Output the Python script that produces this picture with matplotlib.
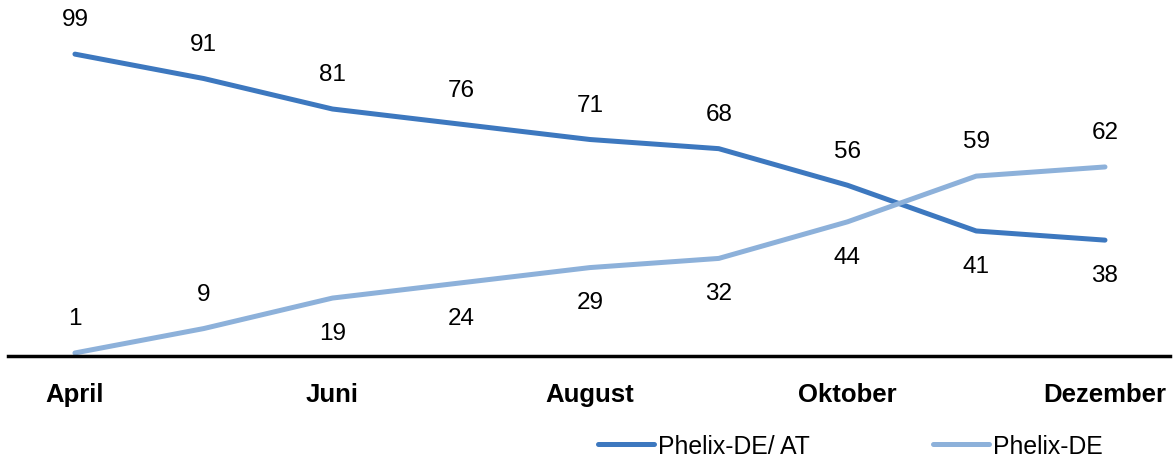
import matplotlib.pyplot as plt
import numpy as np

plt.rcParams['font.family'] = ['Liberation Sans', 'DejaVu Sans']

months = ["April", "Mai", "Juni", "Juli", "August", "September", "Oktober", "November", "Dezember"]
tick_labels = ["April", "", "Juni", "", "August", "", "Oktober", "", "Dezember"]
de_at = [99, 91, 81, 76, 71, 68, 56, 41, 38]
de = [1, 9, 19, 24, 29, 32, 44, 59, 62]
# label placement: +1 above the point, -1 below
de_at_pos = [1, 1, 1, 1, 1, 1, 1, -1, -1]
de_pos = [1, 1, -1, -1, -1, -1, -1, 1, 1]

c_dark = "#3D78BF"
c_light = "#8DB1DA"

fig = plt.figure(figsize=(11.75, 4.6), dpi=100)
ax = fig.add_axes([8 / 1175, (460 - 357) / 460, 1162 / 1175, 347 / 460])

x = np.arange(len(months))
ax.plot(x, de_at, color=c_dark, lw=3.6, solid_capstyle="round", label="Phelix-DE/ AT")
ax.plot(x, de, color=c_light, lw=3.6, solid_capstyle="round", label="Phelix-DE")

for xi, v, p in zip(x, de_at, de_at_pos):
    ax.annotate(str(v), (xi, v), xytext=(0, 25 * p), textcoords="offset points",
                ha="center", va="center", fontsize=17.5)
for xi, v, p in zip(x, de, de_pos):
    ax.annotate(str(v), (xi, v), xytext=(0, 25 * p), textcoords="offset points",
                ha="center", va="center", fontsize=17.5)

ax.set_xlim(-0.52, 8.505)
ax.set_ylim(0, 113.8)
ax.set_yticks([])
ax.set_xticks(x)
ax.set_xticklabels(tick_labels, fontsize=18.5, fontweight="bold")
ax.tick_params(axis="x", length=0, pad=19)
for s in ["top", "right", "left"]:
    ax.spines[s].set_visible(False)
ax.spines["bottom"].set_linewidth(2.5)
ax.spines["bottom"].set_color("black")

fig.legend(loc="center", bbox_to_anchor=(0.7236, 0.028), ncol=2, frameon=False,
           fontsize=17.8, handlelength=2.27, handletextpad=0.16, columnspacing=5.0)

fig.savefig("out.png", dpi=100)
